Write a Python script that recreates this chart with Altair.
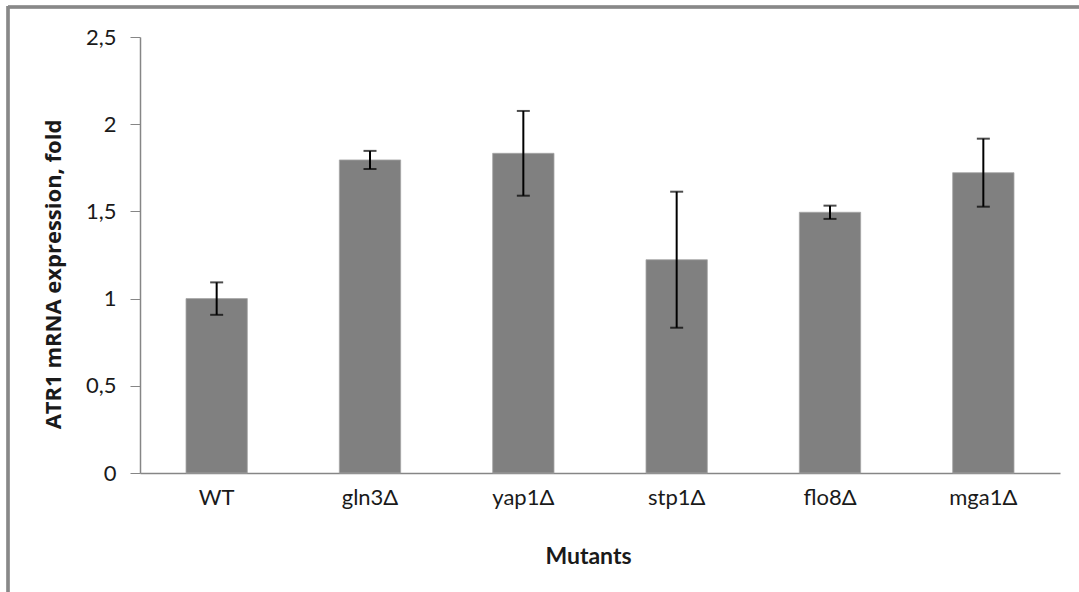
import altair as alt
import pandas as pd

categories = ["WT", "gln3Δ", "yap1Δ", "stp1Δ", "flo8Δ", "mga1Δ"]
values = [1.0, 1.795, 1.833, 1.223, 1.495, 1.722]
errors = [0.093, 0.052, 0.243, 0.39, 0.038, 0.195]

df = pd.DataFrame({
    "cat": categories,
    "val": values,
    "lo": [v - e for v, e in zip(values, errors)],
    "hi": [v + e for v, e in zip(values, errors)],
})

FONT = "Lato"
AX = "#868686"
TXT = "#1a1a1a"

x_enc = alt.X(
    "cat:N", sort=categories,
    scale=alt.Scale(paddingInner=0.6, paddingOuter=0.3),
    axis=alt.Axis(
        title="Mutants", ticks=False, domainColor=AX, domainWidth=1.5,
        labelAngle=0, labelFontSize=22, labelFont=FONT, labelColor=TXT,
        labelPadding=14, titleFont=FONT, titleFontSize=23, titleFontWeight="bold",
        titleColor=TXT, titlePadding=37, titleX=448,
    ),
)

y_scale = alt.Scale(domain=[0, 2.5], nice=False)

bars = alt.Chart(df).mark_bar(color="#808080", stroke="#a6a6a6", strokeWidth=0.8).encode(
    x=x_enc,
    y=alt.Y(
        "val:Q", scale=y_scale,
        axis=alt.Axis(
            title="ATR1 mRNA expression, fold", values=[0, 0.5, 1, 1.5, 2, 2.5],
            grid=False, domainColor=AX, domainWidth=1.5, tickColor=AX, tickSize=10,
            labelExpr="replace(toString(datum.value), '.', ',')",
            labelFontSize=22, labelFont=FONT, labelColor=TXT, labelPadding=14,
            titleFont="Open Sans", titleFontSize=22, titleFontWeight="bold",
            titleColor=TXT, titlePadding=20, titleY=237,
        ),
    ),
)

rules = alt.Chart(df).mark_rule(color="black", strokeWidth=2).encode(
    x=alt.X("cat:N", sort=categories),
    y=alt.Y("lo:Q", scale=y_scale),
    y2="hi:Q",
)
caps_hi = alt.Chart(df).mark_tick(color="black", size=13, thickness=2).encode(
    x=alt.X("cat:N", sort=categories),
    y=alt.Y("hi:Q", scale=y_scale),
)
caps_lo = alt.Chart(df).mark_tick(color="black", size=13, thickness=2).encode(
    x=alt.X("cat:N", sort=categories),
    y=alt.Y("lo:Q", scale=y_scale),
)

frame_left = alt.Chart(df).mark_rule(color="#888888", strokeWidth=2.5).encode(
    x=alt.value(-132), y=alt.value(-31), y2=alt.value(560)
)
frame_top = alt.Chart(df).mark_rule(color="#888888", strokeWidth=2.5).encode(
    x=alt.value(-132), x2=alt.value(960), y=alt.value(-30)
)

chart = alt.layer(bars, rules, caps_hi, caps_lo, frame_left, frame_top).properties(
    width=920, height=436,
    autosize=alt.AutoSizeParams(type="none"),
    padding={"left": 140, "top": 37, "right": 19, "bottom": 119},
    background="white",
).configure_view(stroke=None)

chart.save("out.html", embed_options={"renderer": "svg", "actions": False})
